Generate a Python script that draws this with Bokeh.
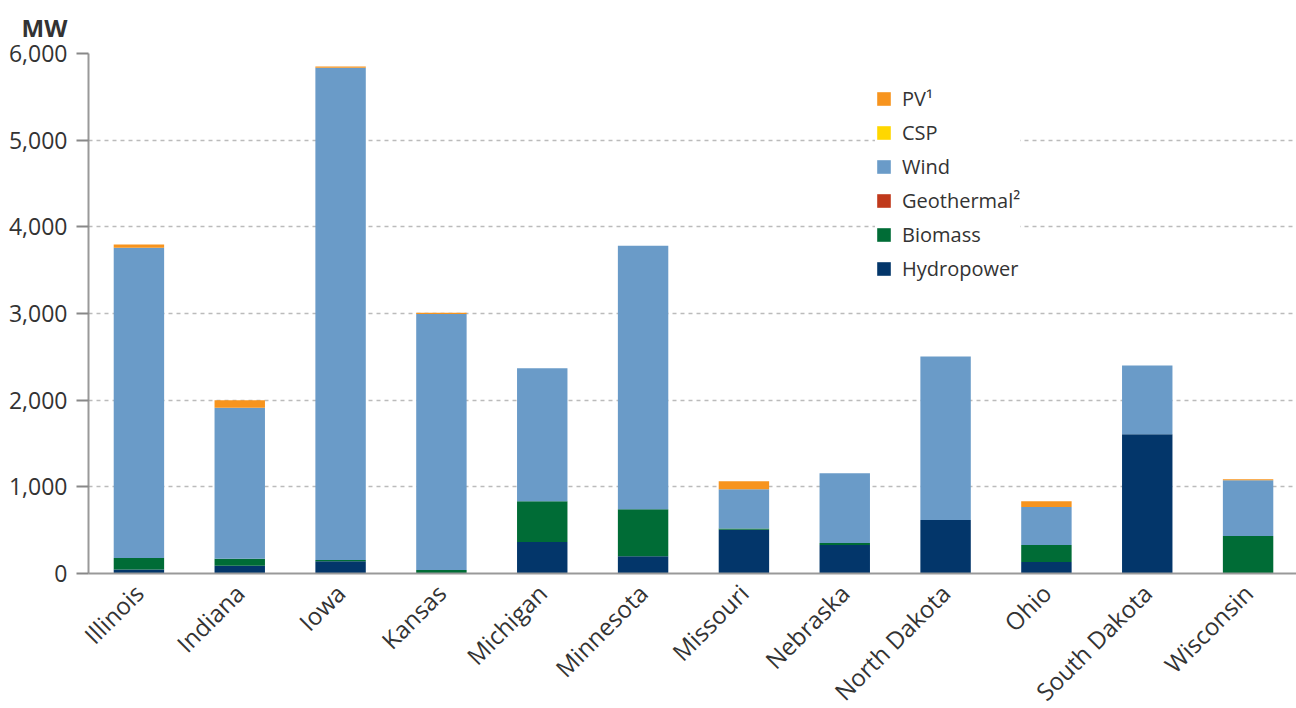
from bokeh.plotting import figure
from bokeh.models import (FactorRange, Legend, LegendItem, NumeralTickFormatter,
                          SingleIntervalTicker, Title, Range1d)
from bokeh.embed import file_html
from bokeh.resources import INLINE

states = ["Illinois", "Indiana", "Iowa", "Kansas", "Michigan", "Minnesota",
          "Missouri", "Nebraska", "North Dakota", "Ohio", "South Dakota", "Wisconsin"]
hydropower = [45, 90, 140, 5, 363, 200, 505, 328, 616, 132, 1607, 0]
biomass = [135, 80, 15, 35, 472, 540, 15, 25, 0, 196, 0, 432]
geothermal = [0, 0, 0, 0, 0, 0, 0, 0, 0, 0, 0, 0]
wind = [3580, 1742, 5682, 2955, 1532, 3043, 453, 804, 1889, 438, 794, 645]
csp = [0, 0, 0, 0, 0, 0, 0, 0, 0, 0, 0, 0]
pv = [35, 88, 12, 15, 0, 0, 92, 0, 0, 69, 0, 11]

series = ["Hydropower", "Biomass", "Geothermal", "Wind", "CSP", "PV"]
labels = {"Hydropower": "Hydropower", "Biomass": "Biomass", "Geothermal": "Geothermal\u00b2",
          "Wind": "Wind", "CSP": "CSP", "PV": "PV\u00b9"}
colors = ["#03366A", "#006C36", "#C0391B", "#6A9BC8", "#FFD700", "#F7941E"]

data = {"state": states, "Hydropower": hydropower, "Biomass": biomass,
        "Geothermal": geothermal, "Wind": wind, "CSP": csp, "PV": pv}

FONT = "Open Sans"
TXT = "#333333"

p = figure(x_range=FactorRange(*states, range_padding=0, factor_padding=0),
           y_range=Range1d(0, 6000),
           frame_width=1210, frame_height=520,
           output_backend="svg", toolbar_location=None,
           min_border_left=88, min_border_right=1, min_border_top=53,
           min_border_bottom=126)

renderers = p.vbar_stack(series, x="state", width=0.5, color=colors, source=data,
                         line_color=None)

p.title = None
t = Title(text="MW", align="left", offset=-67, text_font=FONT, text_font_size="24px",
          text_font_style="bold", text_color=TXT, standoff=16, vertical_align="top")
p.add_layout(t, "above")

# axes
p.yaxis.ticker = SingleIntervalTicker(interval=1000)
p.yaxis.formatter = NumeralTickFormatter(format="0,0")
p.yaxis.major_label_text_font = FONT
p.yaxis.major_label_text_font_size = "23px"
p.yaxis.major_label_text_color = TXT
p.yaxis.axis_line_color = "#999999"
p.yaxis.axis_line_width = 2
p.yaxis.major_tick_line_color = "#888888"
p.yaxis.major_tick_line_width = 2
p.yaxis.major_tick_out = 12
p.yaxis.major_tick_in = 0
p.yaxis.minor_tick_line_color = None
p.yaxis.major_label_standoff = 9

p.xaxis.major_label_orientation = 0.785398
p.xaxis.major_label_text_font = FONT
p.xaxis.major_label_text_font_size = "24px"
p.xaxis.major_label_text_color = TXT
p.xaxis.axis_line_color = "#999999"
p.xaxis.axis_line_width = 2
p.xaxis.major_tick_line_color = None
p.xaxis.minor_tick_line_color = None
p.xaxis.major_label_standoff = 9

p.xgrid.grid_line_color = None
p.ygrid.grid_line_color = "#BBBBBB"
p.ygrid.grid_line_dash = "4 4"
p.ygrid.grid_line_width = 1.5
p.outline_line_color = None

items = [LegendItem(label=labels[s], renderers=[r]) for s, r in zip(series, renderers)]
items.reverse()
legend = Legend(items=items, location=(787, 291), glyph_width=17, glyph_height=17,
                label_text_font=FONT, label_text_font_size="20px", label_text_color=TXT,
                spacing=7, padding=8, margin=0, border_line_color=None,
                background_fill_color="white", background_fill_alpha=1.0,
                label_standoff=10)
p.add_layout(legend, "center")

open("out.html", "w").write(file_html(p, INLINE))
